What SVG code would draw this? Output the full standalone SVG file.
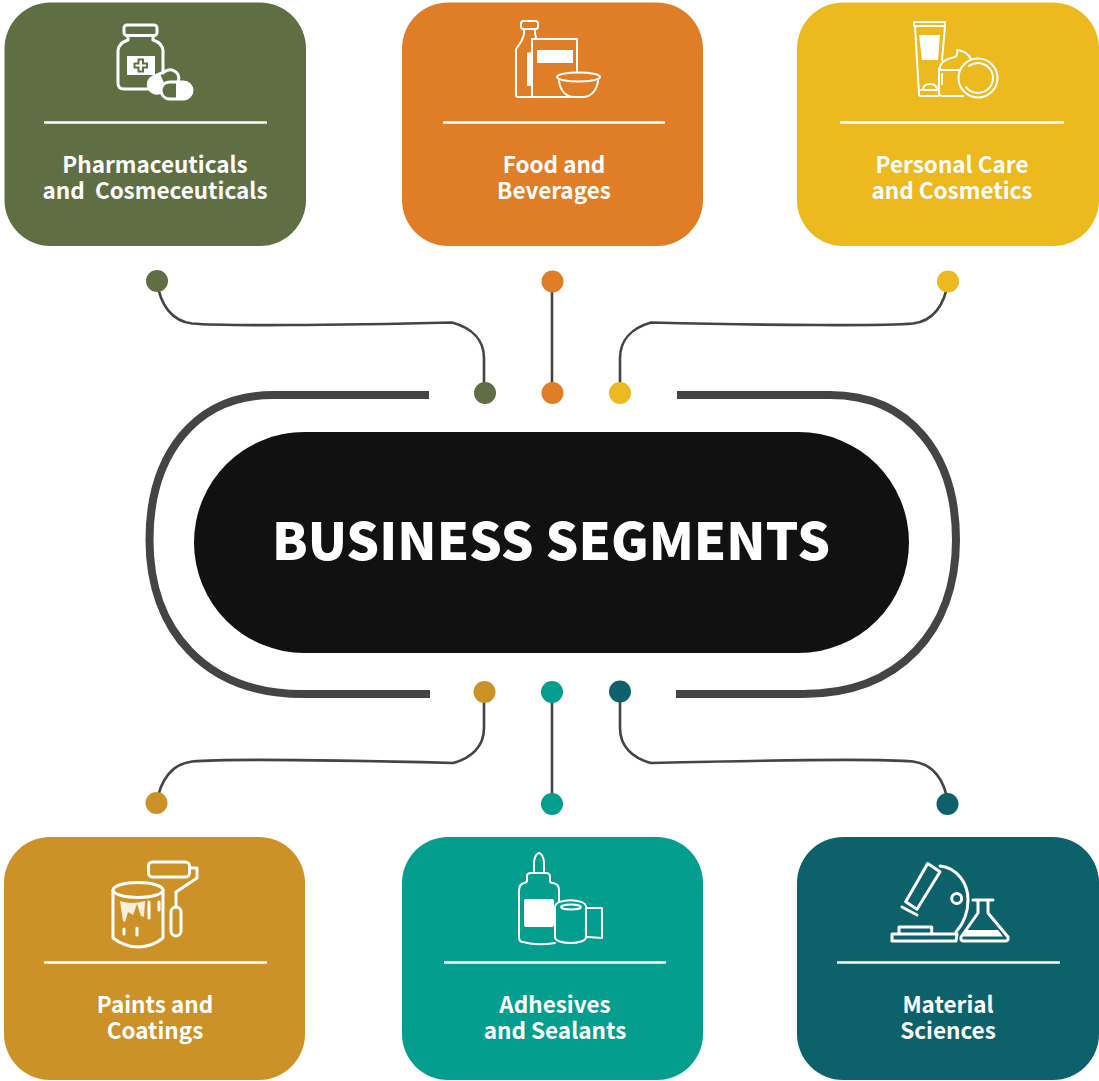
<svg xmlns="http://www.w3.org/2000/svg" width="1099" height="1081" viewBox="0 0 1099 1081">
<style>
.lbl{font-family:"Noto Sans CJK SC","Noto Sans",sans-serif;font-weight:700;font-size:22.500px;fill:#fff;text-anchor:middle}
.rule{stroke:#fff;stroke-width:2.400;fill:none}
.ic{fill:none;stroke:#fff;stroke-width:3;stroke-linejoin:round;stroke-linecap:round}
.thin{stroke-width:2}
.w{fill:#fff;stroke:none}
.wire{fill:none;stroke:#444;stroke-width:2.600}
.ring{fill:none;stroke:#444;stroke-width:8}
</style>
<rect width="1099" height="1081" fill="#fff"/>
<g id="connectors">
<path class="ring" d="M429 395H273C195 395 149.500 455 149.500 540C149.500 630 205 694 303 694H430"/>
<path class="ring" d="M677 395H830C910 395 956 455 956 540C956 630 900 694 803 694H676"/>
<path class="wire" d="M157 281C160 305 172 321 192 323.500C220 326 330 325.500 452 322.500C472 328 484 340 484 358V393"/>
<path class="wire" d="M552 281V393"/>
<path class="wire" d="M948 281C945 305 933 321 913 323.500C885 326 775 325.500 651 322.500C632 328 620 340 620 358V393"/>
<path class="wire" d="M484 692V728C484 746 472 758 453 763C330 760 220 759 192 761.500C172 764 160 780 157 803"/>
<path class="wire" d="M552 692V804"/>
<path class="wire" d="M620 692V728C620 746 632 758 651 763C775 760 885 759 913 761.500C933 764 945 780 948 804"/>
<circle cx="157" cy="281" r="11" fill="#5f6f43"/>
<circle cx="552.500" cy="281.500" r="11" fill="#e07e27"/>
<circle cx="948" cy="281.500" r="11" fill="#ecb91f"/>
<circle cx="485" cy="393" r="11" fill="#5f6f43"/>
<circle cx="552.500" cy="393" r="11" fill="#e07e27"/>
<circle cx="620" cy="393" r="11" fill="#ecb91f"/>
<circle cx="484.500" cy="692" r="11" fill="#cd9227"/>
<circle cx="552" cy="692" r="11" fill="#049e8f"/>
<circle cx="620" cy="691.500" r="11" fill="#0c616a"/>
<circle cx="156.500" cy="803" r="11" fill="#cd9227"/>
<circle cx="552" cy="804" r="11" fill="#049e8f"/>
<circle cx="947.500" cy="804" r="11" fill="#0c616a"/>
</g>
<g id="center">
<rect x="194" y="432" width="715" height="221" rx="110.500" fill="#111"/>
<text x="551" y="560" font-family="'Noto Sans CJK SC','Noto Sans',sans-serif" font-weight="900" font-size="51.500" fill="#fff" text-anchor="middle">BUSINESS SEGMENTS</text>
</g>
<g id="pharma">
<rect x="4.500" y="2.500" width="301.500" height="243.500" rx="46" fill="#5f6f43"/>
<g class="ic">
<rect x="124" y="25" width="33" height="10.500" rx="3"/>
<path d="M128 36V40C122 42 118 45 118 51V83Q118 89 124 89H148M163 73V51C163 45 159 42 153 40V36"/>
</g>
<path class="w" fill-rule="evenodd" d="M127 56H155V75H127ZM137.500 58.500V62.500H133.500V68.500H137.500V72.500H144V68.500H148V62.500H144V58.500ZM139.500 60.500H142V64.500H146V66.500H142V70.500H139.500V66.500H135.500V64.500H139.500Z"/>
<g transform="rotate(-25 163.500 81.500)">
<path class="w" d="M163.500 73H156Q147.500 73 147.500 81.500Q147.500 90 156 90H163.500Z"/>
<rect class="ic" x="147.500" y="73" width="32" height="17" rx="8.500"/>
</g>
<rect x="161" y="82" width="31" height="17" rx="8.500" fill="#5f6f43"/>
<path class="w" d="M176 82H183.500Q192 82 192 90.500Q192 99 183.500 99H176Z"/>
<rect class="ic" x="161" y="82" width="31" height="17" rx="8.500"/>
<line class="rule" x1="44" y1="122.500" x2="267" y2="122.500"/>
<text class="lbl" x="155" y="172.500">Pharmaceuticals<tspan x="155" y="198.500" xml:space="preserve">and  Cosmeceuticals</tspan></text>
</g>
<g id="food">
<rect x="402" y="2.500" width="301" height="243.500" rx="46" fill="#e07e27"/>
<g class="ic thin">
<rect x="521" y="21" width="17" height="8" rx="2.500"/>
<path d="M524 29V33C524 38 520 44 516 49V95Q516 97 518 97H570"/>
<path d="M535 29V33C535 35 536 37 536.500 39"/>
<path d="M532 97V39H577V72"/>
</g>
<path d="M559 81C560 90 566 97 574 97H583C591 97 597 90 598 81Z" fill="#e07e27"/>
<g class="ic thin">
<ellipse cx="578.500" cy="77" rx="21.500" ry="4.500" fill="#e07e27"/>
<path d="M559 81C560 90 566 97 574 97H583C591 97 597 90 598 81"/>
</g>
<rect class="w" x="537" y="50" width="36" height="13"/>
<rect class="w" x="527" y="52.500" width="5" height="33.500"/>
<line class="rule" x1="443" y1="122.500" x2="665" y2="122.500"/>
<text class="lbl" x="554" y="172.500">Food and<tspan x="554" y="198.500">Beverages</tspan></text>
</g>
<g id="personal">
<rect x="797" y="2.500" width="302" height="243.500" rx="46" fill="#ecb91f"/>
<g class="ic thin">
<path d="M914 22H945V26H914ZM915 26L919 94Q919 96 921 96H938M945 26L942 60"/>
<path d="M923 90Q923 84 930 84Q937 84 937 90M920 90H938"/>
<path d="M939 68V93Q939 96 943 96H963"/>
<path d="M940 68Q940 60 955 57Q958 55 957 50Q967 51 971 59"/>
<path d="M940 70H960"/>
<path d="M942 74V84"/>
<circle cx="978" cy="78" r="19.500" fill="#ecb91f"/>
<path d="M969 66A15 15 0 1 1 966 87"/>
</g>
<path class="w" d="M919 35H940L938 60H922Z"/>
<line class="rule" x1="840" y1="122.500" x2="1064" y2="122.500"/>
<text class="lbl" x="952" y="172.500">Personal Care<tspan x="952" y="198.500">and Cosmetics</tspan></text>
</g>
<g id="paints">
<rect x="4" y="837" width="301" height="243" rx="46" fill="#cd9227"/>
<g class="ic">
<rect x="148.500" y="862" width="41" height="15" rx="4"/>
<path d="M190 868H197V878L176 892V907"/>
<rect x="171" y="907" width="10" height="29" rx="5"/>
<ellipse cx="138" cy="890" rx="25" ry="7.500"/>
<path d="M113 890V938Q125 947 138 947Q152 947 163 938V890"/>
<path d="M149 902V918M159 902V910M124 929V934M137 928V935"/>
</g>
<path d="M120 901Q132 905 145 901L144 917L141 916L137 904L133 915L128 912L125 922L123 921Z" fill="#fff" fill-opacity=".85"/>
<line class="rule" x1="44" y1="962.500" x2="267" y2="962.500"/>
<text class="lbl" x="155" y="1012.500">Paints and<tspan x="155" y="1038.500">Coatings</tspan></text>
</g>
<g id="adhesives">
<rect x="402" y="837" width="301" height="243" rx="46" fill="#049e8f"/>
<g class="ic thin">
<path d="M534 871V862Q535 854 539 853Q543 854 544 862V871"/>
<path d="M527 876Q527 873 531 873H546Q550 873 550 877V881Q550 883 553 883Q559 884 559 890V901"/>
<path d="M527 876V880Q527 883 524 883Q519 884 519 891V937Q519 942 523 942Q537 946 555 943"/>
<path d="M555 907C555 898 586 898 586 907V937C586 945 555 945 555 937Z"/>
<ellipse cx="571" cy="907" rx="10" ry="2.500"/>
<path d="M587 908H602V938L587 937"/>
</g>
<rect class="w" x="524" y="899" width="30" height="28" rx="2"/>
<line class="rule" x1="444" y1="962.500" x2="666" y2="962.500"/>
<text class="lbl" x="555" y="1012.500">Adhesives<tspan x="555" y="1038.500">and Sealants</tspan></text>
</g>
<g id="materials">
<rect x="797" y="837" width="302" height="243" rx="46" fill="#0c616a"/>
<g class="ic">
<path d="M927.700 863.500L940 871.700L917 909.300L905.700 901.700Z"/>
<path d="M902 907L917 915"/>
<path d="M940 866C958 868 968 884 968 900C968 913 963 924 956 932"/>
<circle cx="956.700" cy="898.500" r="5"/>
<path d="M899 933.500V927H931.700V933.500"/>
<path d="M892 934H957L956 941H892Z"/>
<path d="M973 900H993M978 901V913L961 937Q960 941 964 941H1005Q1009 941 1008 937L988 913V901"/>
</g>
<path class="w" d="M967 930H998L1003 936.500H963Z"/>
<line class="rule" x1="837" y1="962.500" x2="1060" y2="962.500"/>
<text class="lbl" x="948" y="1012.500">Material<tspan x="948" y="1038.500">Sciences</tspan></text>
</g>
</svg>
